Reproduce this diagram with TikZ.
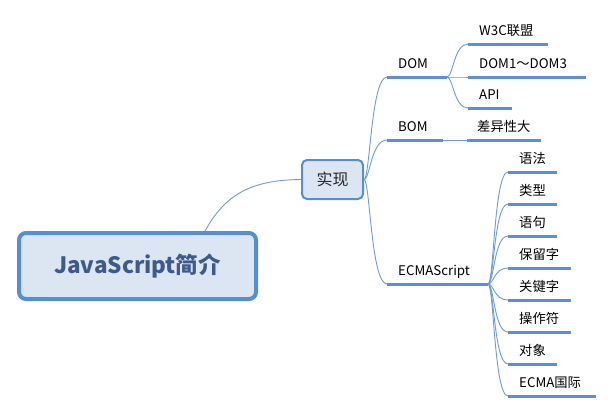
\documentclass[tikz,border=0pt]{standalone}
\usepackage{fontspec}
\setmainfont{Noto Sans CJK SC}
\definecolor{boxfill}{HTML}{DCE6F2}
\definecolor{boxline}{HTML}{558ED5}
\definecolor{roottext}{HTML}{3C5A8E}
\definecolor{conn}{HTML}{6E9BDA}
\definecolor{uline}{HTML}{5B8FD6}
\tikzset{
  rootbox/.style={draw=boxline, line width=4pt, fill=boxfill, rounded corners=7pt,
    minimum width=237pt, minimum height=66pt, inner sep=0pt,
    font=\fontsize{22.5}{26}\selectfont\bfseries, text=roottext},
  mainbox/.style={draw=boxline, line width=2pt, fill=boxfill, rounded corners=5pt,
    minimum width=61pt, minimum height=39pt, inner sep=0pt,
    font=\fontsize{16}{19}\selectfont, text=black!85},
  lbl/.style={anchor=base west, inner sep=0pt, font=\fontsize{13.3}{15}\selectfont, text=black},
  ul/.style={draw=uline, line width=3pt},
  cn/.style={draw=conn, line width=0.9pt},
}
\begin{document}
\begin{tikzpicture}[x=1pt,y=-1pt]
\useasboundingbox (0,0) rectangle (613,413);
% root and level 1
\node[rootbox] (root) at (137.5,266) {JavaScript简介};
\node[mainbox] (impl) at (332.5,179.5) {实现};
\draw[cn] ([xshift=67.5pt]root.north) .. controls (225,195) and (250,180) .. (impl.west);

% level 2 underlines
\coordinate (domL) at (387,77);  \coordinate (domR) at (447,77);
\coordinate (bomL) at (387,140); \coordinate (bomR) at (443,140);
\coordinate (ecmL) at (387,284); \coordinate (ecmR) at (488,284);
\foreach \a in {dom,bom,ecm} {\draw[ul] (\a L) -- (\a R);}
\node[lbl] (dom) at (398,68) {DOM};
\node[lbl] (bom) at (398,131) {BOM};
\node[lbl] (ecm) at (398,275) {ECMAScript};
\foreach \a in {dom,bom,ecm} {
  \draw[cn] (impl.east) .. controls ([xshift=6pt]impl.east) and ([xshift=-16pt]\a L) .. (\a L);
}

% DOM children
\coordinate (w3cL) at (468,44);  \coordinate (w3cR) at (548,44);
\coordinate (d13L) at (468,77);  \coordinate (d13R) at (586,77);
\coordinate (apiL) at (468,108); \coordinate (apiR) at (512,108);
\foreach \a in {w3c,d13,api} {\draw[ul] (\a L) -- (\a R);
  \draw[cn] (domR) .. controls ([xshift=6pt]domR) and ([xshift=-14pt]\a L) .. (\a L);}
\node[lbl] (w3c) at (479,35) {W3C联盟};
\node[lbl] (d13) at (479,68) {DOM1～DOM3};
\node[lbl] (api) at (479,99) {API};

% BOM child
\coordinate (diffL) at (467,140); \coordinate (diffR) at (541,140);
\draw[ul] (diffL) -- (diffR);
\draw[cn] (bomR) -- (diffL);
\node[lbl] (diff) at (477,131) {差异性大};

% ECMAScript children
\foreach \n/\y/\r/\t in {a/172/557/语法, b/204/557/类型, c/236/557/语句, d/268/571/保留字,
    e/300/571/关键字, f/332/571/操作符, g/364/557/对象, h/396/596/ECMA国际} {
  \coordinate (\n L) at (508,\y);
  \coordinate (\n R) at (\r,\y);
  \draw[ul] (\n L) -- (\n R);
  \draw[cn] (ecmR) .. controls ([xshift=6pt]ecmR) and ([xshift=-14pt]\n L) .. (\n L);
  \node[lbl] (e\n) at (519,\y-9) {\t};
}
\end{tikzpicture}
\end{document}
